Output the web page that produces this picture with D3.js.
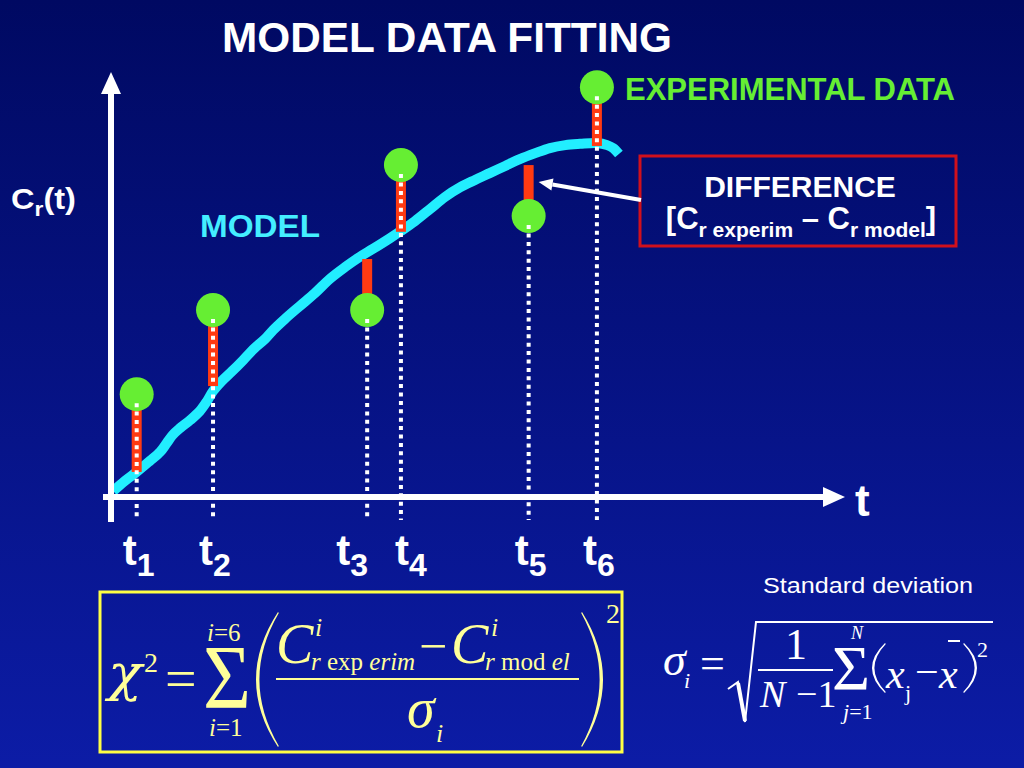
<!DOCTYPE html>
<html><head><meta charset="utf-8">
<script src="https://cdn.jsdelivr.net/npm/d3@7"></script>
<style>html,body{margin:0;padding:0;overflow:hidden;background:#000964}</style>
</head><body><svg id="c" width="1024" height="768"></svg>
<script>
// ---------- data ----------
const sampleTimes   = [0.35, 1.39, 3.49, 3.95, 5.69, 6.62];
const tickBase      = "t";
const tickSubs      = ["1", "2", "3", "4", "5", "6"];
const experimental  = [2.42, 4.40, 4.40, 7.81, 6.61, 9.64];
const modelAtSample = [0.59, 2.61, 5.60, 6.24, 7.81, 8.26];
const modelT = [0.03,0.19,0.35,0.53,0.67,0.76,0.84,0.94,1.08,1.21,1.31,1.39,1.51,1.65,1.80,1.96,2.10,2.21,2.37,2.57,2.78,2.98,3.19,3.39,3.57,3.80,3.95,4.14,4.35,4.55,4.76,4.96,5.16,5.37,5.57,5.78,5.98,6.19,6.39,6.62,6.76,6.84,6.92];
const modelC = [0.14,0.38,0.59,0.85,1.06,1.27,1.46,1.62,1.81,2.02,2.26,2.49,2.73,2.96,3.22,3.51,3.72,3.93,4.19,4.49,4.80,5.13,5.41,5.65,5.84,6.09,6.26,6.49,6.78,7.06,7.29,7.46,7.62,7.79,7.95,8.09,8.21,8.28,8.31,8.33,8.28,8.21,8.07];
const titleText = "MODEL DATA FITTING";
const legendText = "EXPERIMENTAL DATA";
const modelText = "MODEL";

// ---------- setup ----------
const svg = d3.select("#c");
const defs = svg.append("defs");
const grad = defs.append("linearGradient").attr("id","bg").attr("x1",0).attr("y1",0).attr("x2",0).attr("y2",1);
grad.append("stop").attr("offset","0%").attr("stop-color","#000962");
grad.append("stop").attr("offset","100%").attr("stop-color","#0c1ca6");
svg.append("rect").attr("width",1024).attr("height",768).attr("fill","url(#bg)");

const x = d3.scaleLinear().domain([0,10]).range([111,845]);
const y = d3.scaleLinear().domain([0,10]).range([497,72]);

const SANS = "'Liberation Sans', Arial, Helvetica, sans-serif";
const SERIF = "'Liberation Serif', 'Times New Roman', Times, serif";

// ---------- model curve ----------
const modelPts = modelT.map((t,i)=>[t, modelC[i]]);
svg.append("path").datum(modelPts)
  .attr("d", d3.line().x(d=>x(d[0])).y(d=>y(d[1])).curve(d3.curveCatmullRom.alpha(0.5)))
  .attr("fill","none").attr("stroke","#22eeff").attr("stroke-width",10)
  .attr("stroke-linejoin","round");

// ---------- difference bars ----------
const pts = sampleTimes.map((t,i)=>({t, e:experimental[i], m:modelAtSample[i], s:tickSubs[i]}));
svg.selectAll("rect.diff").data(pts).join("rect").attr("class","diff")
  .attr("x", d=>x(d.t)-5).attr("width",10)
  .attr("y", d=>Math.min(y(d.e),y(d.m))).attr("height", d=>Math.abs(y(d.e)-y(d.m)))
  .attr("fill","#ff3a12");

// ---------- experimental points ----------
svg.selectAll("circle.exp").data(pts).join("circle").attr("class","exp")
  .attr("cx", d=>x(d.t)).attr("cy", d=>y(d.e)).attr("r",17).attr("fill","#66ee33");

// ---------- dotted drop lines ----------
svg.selectAll("line.drop").data(pts).join("line").attr("class","drop")
  .attr("x1", d=>x(d.t)).attr("x2", d=>x(d.t))
  .attr("y1", d=>y(d.e)+9).attr("y2", y(0)+23)
  .attr("stroke","#ffffff").attr("stroke-width",4).attr("stroke-dasharray","4 4.4");

// ---------- axes ----------
const axisW = 6;
svg.append("line").attr("x1",x(0)).attr("x2",x(0)).attr("y1",y(0)+25).attr("y2",y(10)+20)
  .attr("stroke","#fff").attr("stroke-width",axisW);
svg.append("path").attr("d",`M${x(0)},${y(10)} L${x(0)+10},${y(10)+22} L${x(0)-10},${y(10)+22} Z`).attr("fill","#fff");
svg.append("line").attr("x1",x(0)-8).attr("x2",x(10)-20).attr("y1",y(0)).attr("y2",y(0))
  .attr("stroke","#fff").attr("stroke-width",axisW);
svg.append("path").attr("d",`M${x(10)},${y(0)} L${x(10)-22},${y(0)-10} L${x(10)-22},${y(0)+10} Z`).attr("fill","#fff");

// axis name "t"
svg.append("text").attr("x",x(10)+10).attr("y",y(0)+19).attr("font-family",SANS).attr("font-weight","bold")
  .attr("font-size",44).attr("fill","#fff").text("t");

// tick labels t1..t6 with collision nudge
const labX = pts.map(d=>x(d.t)-14);
for (let i=0;i<pts.length-1;i++){
  if (x(pts[i+1].t)-x(pts[i].t) < 45){ labX[i]-=17; labX[i+1]+=8; }
}
pts.forEach((d,i)=>{
  const t = svg.append("text").attr("x",labX[i]).attr("y",565).attr("font-family",SANS)
    .attr("font-weight","bold").attr("fill","#fff");
  t.append("tspan").attr("font-size",42).text(tickBase);
  t.append("tspan").attr("font-size",32).attr("dy",11).text(d.s);
});

// y axis label Cr(t)
{
  const t = svg.append("text").attr("x",11).attr("y",209).attr("font-family",SANS)
    .attr("font-weight","bold").attr("fill","#fff").attr("textLength",65).attr("lengthAdjust","spacingAndGlyphs");
  t.append("tspan").attr("font-size",30).text("C");
  t.append("tspan").attr("font-size",21).attr("dy",7).text("r");
  t.append("tspan").attr("font-size",30).attr("dy",-7).text("(t)");
}

// ---------- titles / labels ----------
svg.append("text").attr("x",222).attr("y",52).attr("font-family",SANS).attr("font-weight","bold")
  .attr("font-size",42).attr("fill","#fff").attr("textLength",450).attr("lengthAdjust","spacingAndGlyphs").text(titleText);
svg.append("text").attr("x",625).attr("y",100).attr("font-family",SANS).attr("font-weight","bold")
  .attr("font-size",31).attr("fill","#66ee33").attr("textLength",330).attr("lengthAdjust","spacingAndGlyphs").text(legendText);
svg.append("text").attr("x",200).attr("y",237).attr("font-family",SANS).attr("font-weight","bold")
  .attr("font-size",31).attr("fill","#44eeff").attr("textLength",120).attr("lengthAdjust","spacingAndGlyphs").text(modelText);

// ---------- DIFFERENCE box ----------
svg.append("rect").attr("x",640).attr("y",156).attr("width",316).attr("height",90)
  .attr("fill","none").attr("stroke","#d0101c").attr("stroke-width",3);
svg.append("text").attr("x",800).attr("y",197).attr("text-anchor","middle").attr("font-family",SANS)
  .attr("font-weight","bold").attr("font-size",30).attr("fill","#fff").text("DIFFERENCE");
{
  const t = svg.append("text").attr("x",801).attr("y",229).attr("text-anchor","middle").attr("font-family",SANS)
    .attr("font-weight","bold").attr("fill","#fff");
  t.append("tspan").attr("font-size",31).text("[C");
  t.append("tspan").attr("font-size",21).attr("dy",8).text("r experim");
  t.append("tspan").attr("font-size",31).attr("dy",-8).text(" \u2013 C");
  t.append("tspan").attr("font-size",21).attr("dy",8).text("r model");
  t.append("tspan").attr("font-size",31).attr("dy",-8).text("]");
}
// arrow from box to t5 bar
{
  const tip = [x(sampleTimes[4])+10, y(modelAtSample[4])+17];
  const from = [641, 200];
  const ang = Math.atan2(from[1]-tip[1], from[0]-tip[0]);
  const L = 14, W = 6;
  const bx = tip[0]+L*Math.cos(ang), by = tip[1]+L*Math.sin(ang);
  svg.append("line").attr("x1",from[0]).attr("y1",from[1]).attr("x2",bx).attr("y2",by)
    .attr("stroke","#fff").attr("stroke-width",4);
  svg.append("path").attr("d",`M${tip[0]},${tip[1]} L${bx-W*Math.sin(ang)},${by+W*Math.cos(ang)} L${bx+W*Math.sin(ang)},${by-W*Math.cos(ang)} Z`)
    .attr("fill","#fff");
}

// ---------- math helpers ----------
function formula(g, fill, parts) {
  const t = g.append("text").attr("font-family",SERIF).attr("fill",fill);
  parts.forEach(p=>{
    const s = t.append("tspan").attr("font-size",p.s).text(p.t);
    if (p.x !== undefined) s.attr("x",p.x);
    if (p.y !== undefined) s.attr("y",p.y);
    if (p.it) s.attr("font-style","italic");
    if (p.f) s.attr("font-family",p.f);
    if (p.len) s.attr("textLength",p.len).attr("lengthAdjust","spacingAndGlyphs");
  });
  return t;
}
function paren(g, fill, xEnd, yTop, yBot, xMid, thick) {
  const ym = (yTop+yBot)/2;
  const cOut = (4*xMid - 2*xEnd)/2;
  const dir = xMid < xEnd ? 1 : -1;
  const cIn = (4*(xMid+dir*thick) - 2*xEnd)/2;
  g.append("path").attr("d",
    `M${xEnd},${yTop} Q${cOut},${ym} ${xEnd},${yBot} L${xEnd+dir*0.8},${yBot-1} Q${cIn},${ym} ${xEnd+dir*0.8},${yTop+1} Z`)
    .attr("fill",fill);
}

// ---------- chi-square formula ----------
const Y1 = "#ffff99";
const F1 = svg.append("g");
F1.append("rect").attr("x",100).attr("y",592).attr("width",522).attr("height",160)
  .attr("fill","none").attr("stroke","#ffff44").attr("stroke-width",3);
formula(F1, Y1, [
  {t:"\u03C7", x:108, y:690, s:50, it:true, f:"'DejaVu Serif', serif", len:34},
  {t:"2", x:144, y:672, s:28},
  {t:"=", x:165, y:698, s:56},
  {t:"\u03A3", x:203, y:708, s:92, len:48},
  {t:"i", x:207, y:641, s:25, it:true}, {t:"=6", s:25},
  {t:"i", x:209, y:736, s:25, it:true}, {t:"=1", s:25},
  {t:"C", x:276, y:663, s:56, it:true},
  {t:"i", x:315, y:636, s:26, it:true},
  {t:"r", x:311, y:670, s:25, it:true}, {t:" exp ", s:25}, {t:"erim", s:25, it:true},
  {t:"\u2212", x:419, y:663, s:50},
  {t:"C", x:451, y:663, s:56, it:true},
  {t:"i", x:491, y:636, s:26, it:true},
  {t:"r", x:485, y:670, s:25, it:true}, {t:" mod ", s:25}, {t:"el", s:25, it:true},
  {t:"\u03C3", x:407, y:727, s:56, it:true},
  {t:"i", x:436, y:742, s:26, it:true},
  {t:"2", x:606, y:623, s:28}
]);
F1.append("line").attr("x1",276).attr("x2",579).attr("y1",679).attr("y2",679).attr("stroke",Y1).attr("stroke-width",2);
paren(F1, Y1, 278, 612, 747, 256, 3);
paren(F1, Y1, 582, 612, 747, 603, 3);

// ---------- standard deviation formula ----------
svg.append("text").attr("x",763).attr("y",593).attr("font-family",SANS).attr("font-size",22)
  .attr("fill","#fff").attr("textLength",210).attr("lengthAdjust","spacingAndGlyphs").text("Standard deviation");
const F2 = svg.append("g");
formula(F2, "#fff", [
  {t:"\u03C3", x:663, y:675, s:46, it:true},
  {t:"i", x:684, y:688, s:22, it:true},
  {t:"=", x:700, y:678, s:44},
  {t:"1", x:785, y:659, s:44},
  {t:"N", x:760, y:707, s:38, it:true},
  {t:"\u22121", x:796, y:707, s:38},
  {t:"\u03A3", x:832, y:690, s:64, len:38},
  {t:"N", x:851, y:639, s:18, it:true},
  {t:"j", x:843, y:719, s:22, it:true}, {t:"=1", s:22},
  {t:"x", x:886, y:688, s:42, it:true},
  {t:"j", x:905, y:700, s:22},
  {t:"\u2212", x:915, y:686, s:42},
  {t:"x", x:939, y:688, s:42, it:true},
  {t:"2", x:977, y:657, s:22}
]);
F2.append("path").attr("d","M728,689 L738,682 L745,722 L756,622 L993,622").attr("fill","none")
  .attr("stroke","#fff").attr("stroke-width",2).attr("stroke-linejoin","miter");
F2.append("line").attr("x1",738).attr("y1",683).attr("x2",745).attr("y2",721).attr("stroke","#fff").attr("stroke-width",4);
F2.append("line").attr("x1",758).attr("x2",833).attr("y1",670).attr("y2",670).attr("stroke","#fff").attr("stroke-width",2);
F2.append("line").attr("x1",948).attr("x2",960).attr("y1",641).attr("y2",641).attr("stroke","#fff").attr("stroke-width",2);
paren(F2, "#fff", 885, 643, 693, 872, 2);
paren(F2, "#fff", 964, 643, 693, 977, 2);
</script>
</body></html>
